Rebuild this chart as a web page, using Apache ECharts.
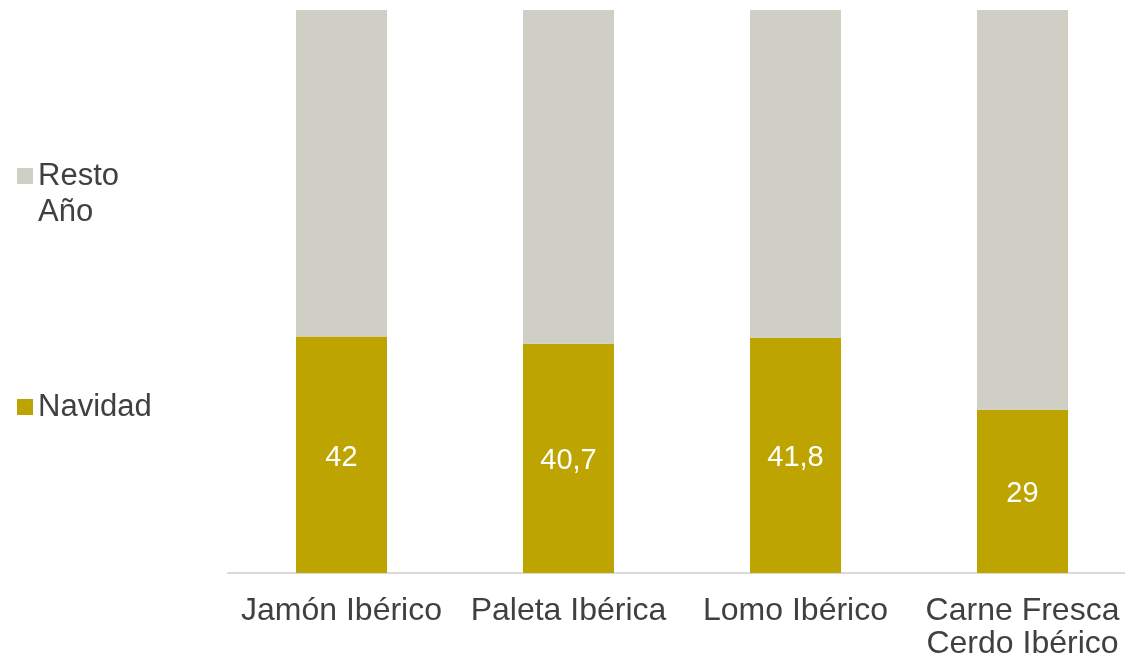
<!DOCTYPE html>
<html><head><meta charset="utf-8">
<script src="https://cdn.jsdelivr.net/npm/echarts@6/dist/echarts.min.js"></script>
<style>html,body{margin:0;padding:0;background:#fff}#c{width:1125px;height:661px}</style>
</head><body><div id="c"></div>
<script>
const categories = ['Jamón Ibérico', 'Paleta Ibérica', 'Lomo Ibérico', 'Carne Fresca\nCerdo Ibérico'];
const navidad = [42, 40.7, 41.8, 29];
const restoAnio = [58, 59.3, 58.2, 71];
const seriesNames = ['Navidad', 'Resto Año'];

const font = 'Liberation Sans, Arial, sans-serif';
const chart = echarts.init(document.getElementById('c'));
chart.setOption({
  animation: false,
  grid: { left: 228, top: 10, width: 908, bottom: 88, outerBoundsMode: 'none' },
  legend: [
    { data: [seriesNames[1]], orient: 'vertical', left: 17, top: 122, padding: 0, itemWidth: 16, itemHeight: 16,
      icon: 'rect', formatter: () => '\u00a0\nResto\nAño',
      textStyle: { fontFamily: font, fontSize: 31, color: '#404040', lineHeight: 36 } },
    { data: [seriesNames[0]], orient: 'vertical', left: 17, top: 389, padding: 0, itemWidth: 16, itemHeight: 16,
      icon: 'rect',
      textStyle: { fontFamily: font, fontSize: 31, color: '#404040', lineHeight: 36 } }
  ],
  xAxis: {
    type: 'category', data: categories,
    axisLine: { lineStyle: { color: '#D9D9D9', width: 2 } },
    axisTick: { show: false },
    axisLabel: { fontFamily: font, fontSize: 32, color: '#404040', margin: 22, lineHeight: 33, interval: 0 }
  },
  yAxis: { type: 'value', min: 0, max: 100, show: false, splitLine: { show: false } },
  series: [
    { name: seriesNames[0], type: 'bar', stack: 't', data: navidad, barWidth: 91,
      itemStyle: { color: '#BDA400' },
      label: { show: true, position: 'inside', offset: [0, 3], color: '#fff', fontFamily: font, fontSize: 29,
        formatter: p => String(p.value).replace('.', ',') } },
    { name: seriesNames[1], type: 'bar', stack: 't', data: restoAnio, barWidth: 91,
      itemStyle: { color: '#CFCFC6' } }
  ]
});
</script></body></html>
